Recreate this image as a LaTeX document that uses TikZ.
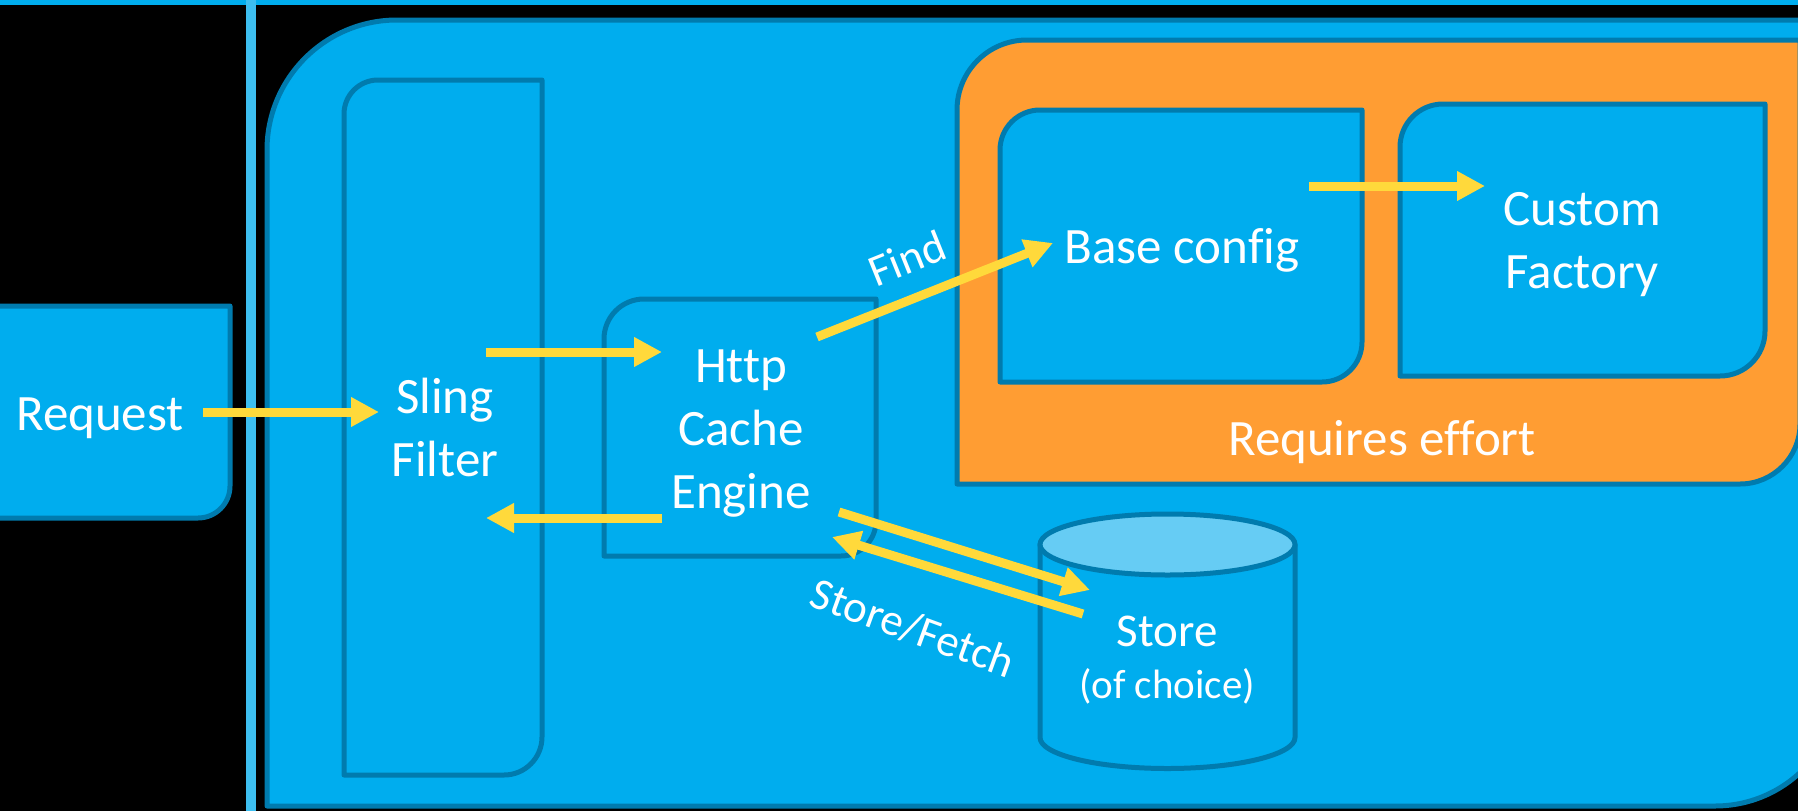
\documentclass[tikz,border=0pt]{standalone}
\usepackage{fontspec}
\setmainfont{Carlito}[Ligatures=NoCommon]
\usetikzlibrary{arrows.meta}
\definecolor{bfill}{HTML}{00ADEE}
\definecolor{bedge}{HTML}{007BAE}
\definecolor{ofill}{HTML}{FF9D33}
\definecolor{topc}{HTML}{66CCF4}
\definecolor{vline}{HTML}{3DBEF0}
\definecolor{yel}{HTML}{FFD93B}
\begin{document}
\begin{tikzpicture}[x=1pt,y=-1pt,line join=round,
  shapebox/.style={fill=bfill,draw=bedge,line width=5pt},
  orangebox/.style={fill=ofill,draw=bedge,line width=5pt},
  flow/.style={draw=yel,line width=9pt,-{Triangle[length=28pt,width=28pt]}},
  lbl/.style={text=white,font=\fontsize{51}{63}\selectfont,inner sep=0pt,align=center},
  small/.style={text=white,font=\fontsize{45}{54}\selectfont,inner sep=0pt}]
\useasboundingbox (0,0) rectangle (1798,811);
\clip (0,0) rectangle (1798,811);
\fill[black] (0,0) rectangle (1798,811);
\fill[bfill] (0,0) rectangle (1798,5);
\fill[vline] (246,0) rectangle (256,811);
% request box
\path[shapebox] (-100,306) -- (230,306) -- (230,486)
  .. controls (230,503.7) and (215.7,518) .. (198,518) -- (-100,518) -- cycle;
% main box
\path[shapebox] (267,150) .. controls (267,78.2) and (325.2,20) .. (397,20)
  -- (1840,20) -- (1840,681) .. controls (1840,750) and (1784,806) .. (1715,806)
  -- (267,806) -- cycle;
% orange area
\path[orangebox] (957,110) .. controls (957,71.3) and (988.3,40) .. (1027,40)
  -- (1800,40) -- (1800,424) .. controls (1800,457.1) and (1773.1,484) .. (1740,484)
  -- (957,484) -- cycle;
% base config
\path[shapebox] (1000,150) .. controls (1000,127.9) and (1017.9,110) .. (1040,110)
  -- (1362,110) -- (1362,342) .. controls (1362,364.1) and (1344.1,382) .. (1322,382)
  -- (1000,382) -- cycle;
% custom factory
\path[shapebox] (1400,147) .. controls (1400,123.3) and (1419.3,104) .. (1443,104)
  -- (1765,104) -- (1765,331) .. controls (1765,355.9) and (1744.9,376) .. (1720,376)
  -- (1400,376) -- cycle;
% sling filter
\path[shapebox] (344,114) .. controls (344,95.2) and (359.2,80) .. (378,80)
  -- (542,80) -- (542,737) .. controls (542,758) and (525,775) .. (504,775)
  -- (344,775) -- cycle;
% http cache engine
\path[shapebox] (604,339) .. controls (604,316.9) and (621.9,299) .. (644,299)
  -- (876,299) -- (876,521) .. controls (876,540.3) and (860.3,556) .. (841,556)
  -- (604,556) -- cycle;
% store cylinder
\path[shapebox] (1295,544.5) -- (1040,544.5) -- (1040,737.5)
  .. controls (1040,754.6) and (1097.1,768.5) .. (1167.5,768.5)
  .. controls (1237.9,768.5) and (1295,754.6) .. (1295,737.5) -- cycle;
\path[fill=topc,draw=bedge,line width=5pt] (1167.5,544.5) ellipse [x radius=127.5,y radius=30.5];
% texts
\node[lbl,anchor=base] (request) at (100,430) {Request};
\node[lbl] (sling) at (445,427) {Sling\\Filter};
\node[lbl] (http) at (741,434) {Http\\Cache\\Engine};
\node[lbl,anchor=base] (base) at (1182,263) {Base config};
\node[lbl] (custom) at (1582,245) {Custom\\Factory};
\node[lbl,anchor=base] (effort) at (1382,455) {Requires effort};
\node[text=white,inner sep=0pt,font=\fontsize{47}{56}\selectfont,anchor=base] (store) at (1167,646) {Store};
\node[text=white,inner sep=0pt,font=\fontsize{41}{49}\selectfont,anchor=base] (choice) at (1167,698) {(of choice)};
\node[small,rotate=22] (find) at (907,258) {Find};
\node[small,rotate=-20] (fetch) at (913,628) {Store/Fetch};
% connector end points
\coordinate (reqout) at (203,412);
\coordinate (slingin) at (379,412);
\coordinate (slingout) at (486,352);
\coordinate (httpin) at (662,352);
\coordinate (httpout) at (662,518);
\coordinate (slingback) at (486,518);
\coordinate (findfrom) at (817,337);
\coordinate (baseat) at (1053,243);
\coordinate (baseout) at (1309,186);
\coordinate (customin) at (1485,186);
\coordinate (storefrom) at (839,512);
\coordinate (storeat) at (1090,590);
\coordinate (fetchfrom) at (1083,614);
\coordinate (fetchat) at (832,537);
\draw[flow] (reqout) -- (slingin);
\draw[flow] (slingout) -- (httpin);
\draw[flow] (httpout) -- (slingback);
\draw[flow] (findfrom) -- (baseat);
\draw[flow] (baseout) -- (customin);
\draw[flow] (storefrom) -- (storeat);
\draw[flow] (fetchfrom) -- (fetchat);
\end{tikzpicture}
\end{document}
